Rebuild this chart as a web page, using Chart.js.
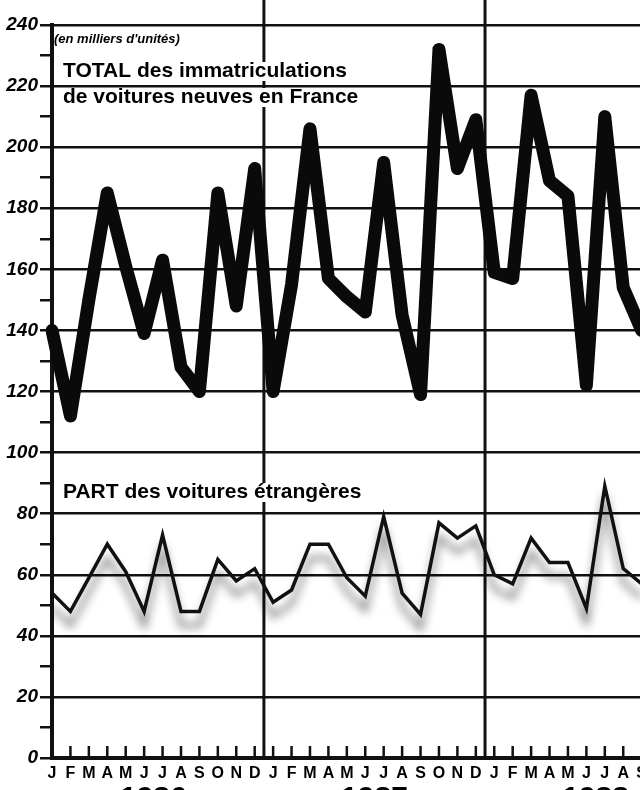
<!DOCTYPE html>
<html>
<head>
<meta charset="utf-8">
<script src="https://cdn.jsdelivr.net/npm/chart.js@4.4.1/dist/chart.umd.min.js"></script>
<style>
  html, body { margin: 0; padding: 0; background: #fff; overflow: hidden; }
  #wrap { width: 653px; height: 790px; }
</style>
</head>
<body>
<div id="wrap"><canvas id="immat"></canvas></div>
<script>
// months under the axis, Jan 1986 -> Sep 1988
const monthLetters = ["J", "F", "M", "A", "M", "J", "J", "A", "S", "O", "N", "D"];
const monthLabels = [...monthLetters, ...monthLetters, ...monthLetters.slice(0, 9)];
const yearLabels = ["1986", "1987", "1988"];

// total registrations of new cars, thousands
const totalImmat = [
  140, 112, 150, 185, 161, 139, 163, 128, 120, 185, 148, 193,
  120, 155, 206, 157, 151, 146, 195, 145, 119, 232, 193, 209,
  159, 157, 217, 189, 184, 122, 210, 154, 140
];
// foreign cars, thousands
const partEtrangeres = [
  54, 48, 59, 70, 61, 48, 73, 48, 48, 65, 58, 62,
  51, 55, 70, 70, 59, 53, 79, 54, 47, 77, 72, 76,
  60, 57, 72, 64, 64, 49, 89, 62, 57
];

const INK = "#111";
const FONT = "'Liberation Sans', Arial, sans-serif";
Chart.defaults.font.family = FONT;
Chart.defaults.color = INK;

// grey "stipple" under the foreign-cars line
const stipple = {
  id: "stipple",
  beforeDatasetDraw(chart, args) {
    if (args.index !== 1) return;
    const ctx = chart.ctx;
    ctx.save();
    ctx.shadowColor = "rgba(0,0,0,0.6)";
    ctx.shadowBlur = 10;
    ctx.shadowOffsetY = 14;
  },
  afterDatasetDraw(chart, args) {
    if (args.index !== 1) return;
    chart.ctx.restore();
  }
};

// year separators, month ticks, titles, years
const decor = {
  id: "decor",
  beforeDatasetsDraw(chart) {
    const { ctx, chartArea, scales: { x } } = chart;
    ctx.save();
    ctx.strokeStyle = INK;

    ctx.lineWidth = 3;
    [12, 24].forEach(i => {
      const px = (x.getPixelForValue(i - 1) + x.getPixelForValue(i)) / 2;
      ctx.beginPath();
      ctx.moveTo(px, 0);
      ctx.lineTo(px, chartArea.bottom);
      ctx.stroke();
    });

    ctx.lineWidth = 2.5;
    for (let i = 1; i < monthLabels.length; i++) {
      const px = x.getPixelForValue(i);
      ctx.beginPath();
      ctx.moveTo(px, chartArea.bottom);
      ctx.lineTo(px, chartArea.bottom - 12);
      ctx.stroke();
    }

    const title = (txt, tx, ty) => {
      ctx.font = "bold 21px " + FONT;
      const w = ctx.measureText(txt).width;
      ctx.fillStyle = "#fff";
      ctx.fillRect(tx - 2, ty - 15, w + 4, 19);
      ctx.fillStyle = "#000";
      ctx.fillText(txt, tx, ty);
    };
    ctx.textBaseline = "alphabetic";
    ctx.textAlign = "left";
    ctx.fillStyle = "#000";
    ctx.font = "italic bold 13px " + FONT;
    ctx.fillText("(en milliers d'unités)", chartArea.left + 2, chartArea.top + 18);
    title("TOTAL des immatriculations", chartArea.left + 11, chartArea.top + 52);
    title("de voitures neuves en France", chartArea.left + 11, chartArea.top + 78);
    title("PART des voitures étrangères", chartArea.left + 11, chartArea.top + 473);
    ctx.restore();
  },
  afterDraw(chart) {
    const { ctx, chartArea, scales: { x } } = chart;
    ctx.save();
    ctx.fillStyle = "#000";
    ctx.font = "bold 30px " + FONT;
    ctx.textAlign = "center";
    ctx.textBaseline = "top";
    yearLabels.forEach((yr, k) => {
      const first = k * 12;
      const px = (x.getPixelForValue(first) + x.getPixelForValue(first + 11)) / 2;
      ctx.fillText(yr, px, chartArea.bottom + 26);
    });
    ctx.restore();
  }
};

new Chart(document.getElementById("immat"), {
  type: "line",
  data: {
    labels: monthLabels,
    datasets: [{
      label: "TOTAL des immatriculations",
      data: totalImmat,
      borderColor: "#0a0a0a",
      borderWidth: 13,
      borderJoinStyle: "round",
      borderCapStyle: "round",
      pointRadius: 0,
      tension: 0
    }, {
      label: "PART des voitures étrangères",
      data: partEtrangeres,
      borderColor: INK,
      borderWidth: 3.5,
      borderJoinStyle: "miter",
      pointRadius: 0,
      tension: 0
    }]
  },
  options: {
    responsive: true,
    maintainAspectRatio: false,
    animation: false,
    layout: { padding: { top: 25, right: 0, left: 0, bottom: 0 } },
    plugins: { legend: { display: false }, tooltip: { enabled: false } },
    scales: {
      x: {
        offset: false,
        afterFit: s => { s.height = 32; },
        grid: { display: false, drawTicks: false },
        border: { color: INK, width: 4 },
        ticks: {
          autoSkip: false,
          maxRotation: 0,
          padding: 6,
          color: "#000",
          font: { size: 16, weight: "bold" }
        }
      },
      y: {
        min: 0,
        max: 240,
        afterFit: s => { s.width = 52; },
        border: { color: INK, width: 4 },
        grid: {
          color: c => (c.tick.value % 20 === 0 ? INK : "rgba(0,0,0,0)"),
          tickColor: INK,
          lineWidth: 2.5,
          tickLength: 12
        },
        ticks: {
          stepSize: 10,
          padding: 2,
          color: "#000",
          font: { size: 19, weight: "bold", style: "italic" },
          callback: v => (v % 20 === 0 ? v : "")
        }
      }
    }
  },
  plugins: [stipple, decor]
});
</script>
</body>
</html>
